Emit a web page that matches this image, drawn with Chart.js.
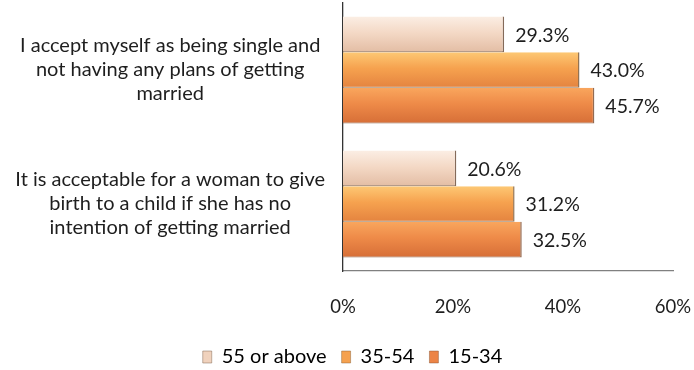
<!DOCTYPE html>
<html>
<head>
<meta charset="utf-8">
<script src="https://cdn.jsdelivr.net/npm/chart.js@4/dist/chart.umd.min.js"></script>
<style>
  html, body { margin: 0; padding: 0; background: #ffffff; }
  #wrap { position: relative; width: 694px; height: 370px; }
</style>
</head>
<body>
<div id="wrap"><canvas id="c" width="694" height="370"></canvas></div>
<script>
// ---- data ----
const categories = [
  ["I accept myself as being single and", "not having any plans of getting", "married"],
  ["It is acceptable for a woman to give", "birth to a child if she has no", "intention of getting married"]
];
const seriesNames = ["55 or above", "35-54", "15-34"];
const values55plus = [29.3, 20.6];
const values35to54 = [43.0, 31.2];
const values15to34 = [45.7, 32.5];
const xTickValues = [0, 20, 40, 60];

// ---- styles ----
const FONT = "Lato, 'Open Sans', sans-serif";
const gradStops = [
  ["#fbeee4", "#f4d9c6", "#e3bda4"],
  ["#fdc874", "#f6a24f", "#e4833f"],
  ["#f9a65d", "#ee8a48", "#d66e37"]
];
const solidColors = ["#f0d2bd", "#f5a14f", "#ec8446"];
const edgeColors = ["rgba(110,80,60,0.85)", "rgba(120,80,40,0.8)", "rgba(120,70,40,0.8)"];

function barGradient(ctx) {
  const chart = ctx.chart;
  const area = chart.chartArea;
  const ds = ctx.datasetIndex;
  if (!area || ctx.type !== 'data') return solidColors[ds];
  const ys = chart.scales.y;
  const center = ys.getPixelForValue(ctx.dataIndex);
  const catH = (area.bottom - area.top) / categories.length;
  const th = catH * 0.8 / seriesNames.length;
  const top = center - catH * 0.4 + ds * th;
  const g = chart.ctx.createLinearGradient(0, top, 0, top + th);
  g.addColorStop(0, gradStops[ds][0]);
  g.addColorStop(0.45, gradStops[ds][1]);
  g.addColorStop(1, gradStops[ds][2]);
  return g;
}

const valueLabels = {
  id: 'valueLabels',
  afterDatasetsDraw(chart) {
    const c = chart.ctx;
    c.save();
    c.font = "19.5px " + FONT;
    c.fillStyle = "#1e1e1e";
    c.textBaseline = "middle";
    c.textAlign = "left";
    chart.data.datasets.forEach((ds, di) => {
      const meta = chart.getDatasetMeta(di);
      meta.data.forEach((el, i) => {
        c.fillText(ds.data[i].toFixed(1) + "%", el.x + 11, el.y + 1);
      });
    });
    c.restore();
  }
};

// shift the legend row slightly to the right, as in the reference
const legendShift = {
  id: 'legendShift',
  afterLayout(chart) {
    const lg = chart.legend;
    if (lg) { lg.left += 16; lg.right += 16; }
  }
};

const seriesValues = [values55plus, values35to54, values15to34];

new Chart(document.getElementById('c'), {
  type: 'bar',
  data: {
    labels: categories,
    datasets: seriesNames.map((name, i) => ({
      label: name,
      data: seriesValues[i],
      backgroundColor: barGradient,
      borderColor: edgeColors[i],
      borderWidth: { top: 0, right: 1.5, bottom: 1, left: 0 },
      borderSkipped: false,
      categoryPercentage: 0.8,
      barPercentage: 1.0
    }))
  },
  options: {
    indexAxis: 'y',
    responsive: false,
    animation: false,
    devicePixelRatio: 1,
    layout: { padding: { top: 3, right: 21, left: 0, bottom: 0 } },
    scales: {
      x: {
        min: 0, max: 60,
        afterBuildTicks: (s) => { s.ticks = xTickValues.map(v => ({ value: v })); },
        ticks: {
          callback: (v) => v + "%",
          font: { family: FONT, size: 18.5 },
          color: "#1e1e1e",
          padding: 25,
          maxRotation: 0
        },
        grid: { display: false, drawTicks: false },
        border: { display: true, color: "#808080", width: 1.3 },
        afterFit: (s) => {
          s.height = 61;
          s.paddingLeft = 0; s.paddingRight = 0;
        }
      },
      y: {
        ticks: {
          font: { family: FONT, size: 20, lineHeight: '24px' },
          color: "#1e1e1e",
          crossAlign: 'center',
          padding: 18
        },
        grid: { display: false, drawTicks: false },
        border: { display: true, color: "#333333", width: 1.3 },
        afterFit: (s) => {
          s.width = 343;
          s.paddingTop = 0; s.paddingBottom = 0;
        }
      }
    },
    plugins: {
      legend: {
        position: 'bottom',
        maxHeight: 38,
        labels: {
          padding: 15,
          boxWidth: 9,
          boxHeight: 12,
          color: "#1e1e1e",
          font: { family: FONT, size: 20 },
          generateLabels: (chart) => chart.data.datasets.map((ds, i) => ({
            text: ds.label,
            fillStyle: solidColors[i],
            strokeStyle: edgeColors[i],
            lineWidth: 0.5,
            hidden: false,
            datasetIndex: i
          }))
        }
      },
      tooltip: { enabled: false }
    }
  },
  plugins: [valueLabels, legendShift]
});
</script>
</body>
</html>
